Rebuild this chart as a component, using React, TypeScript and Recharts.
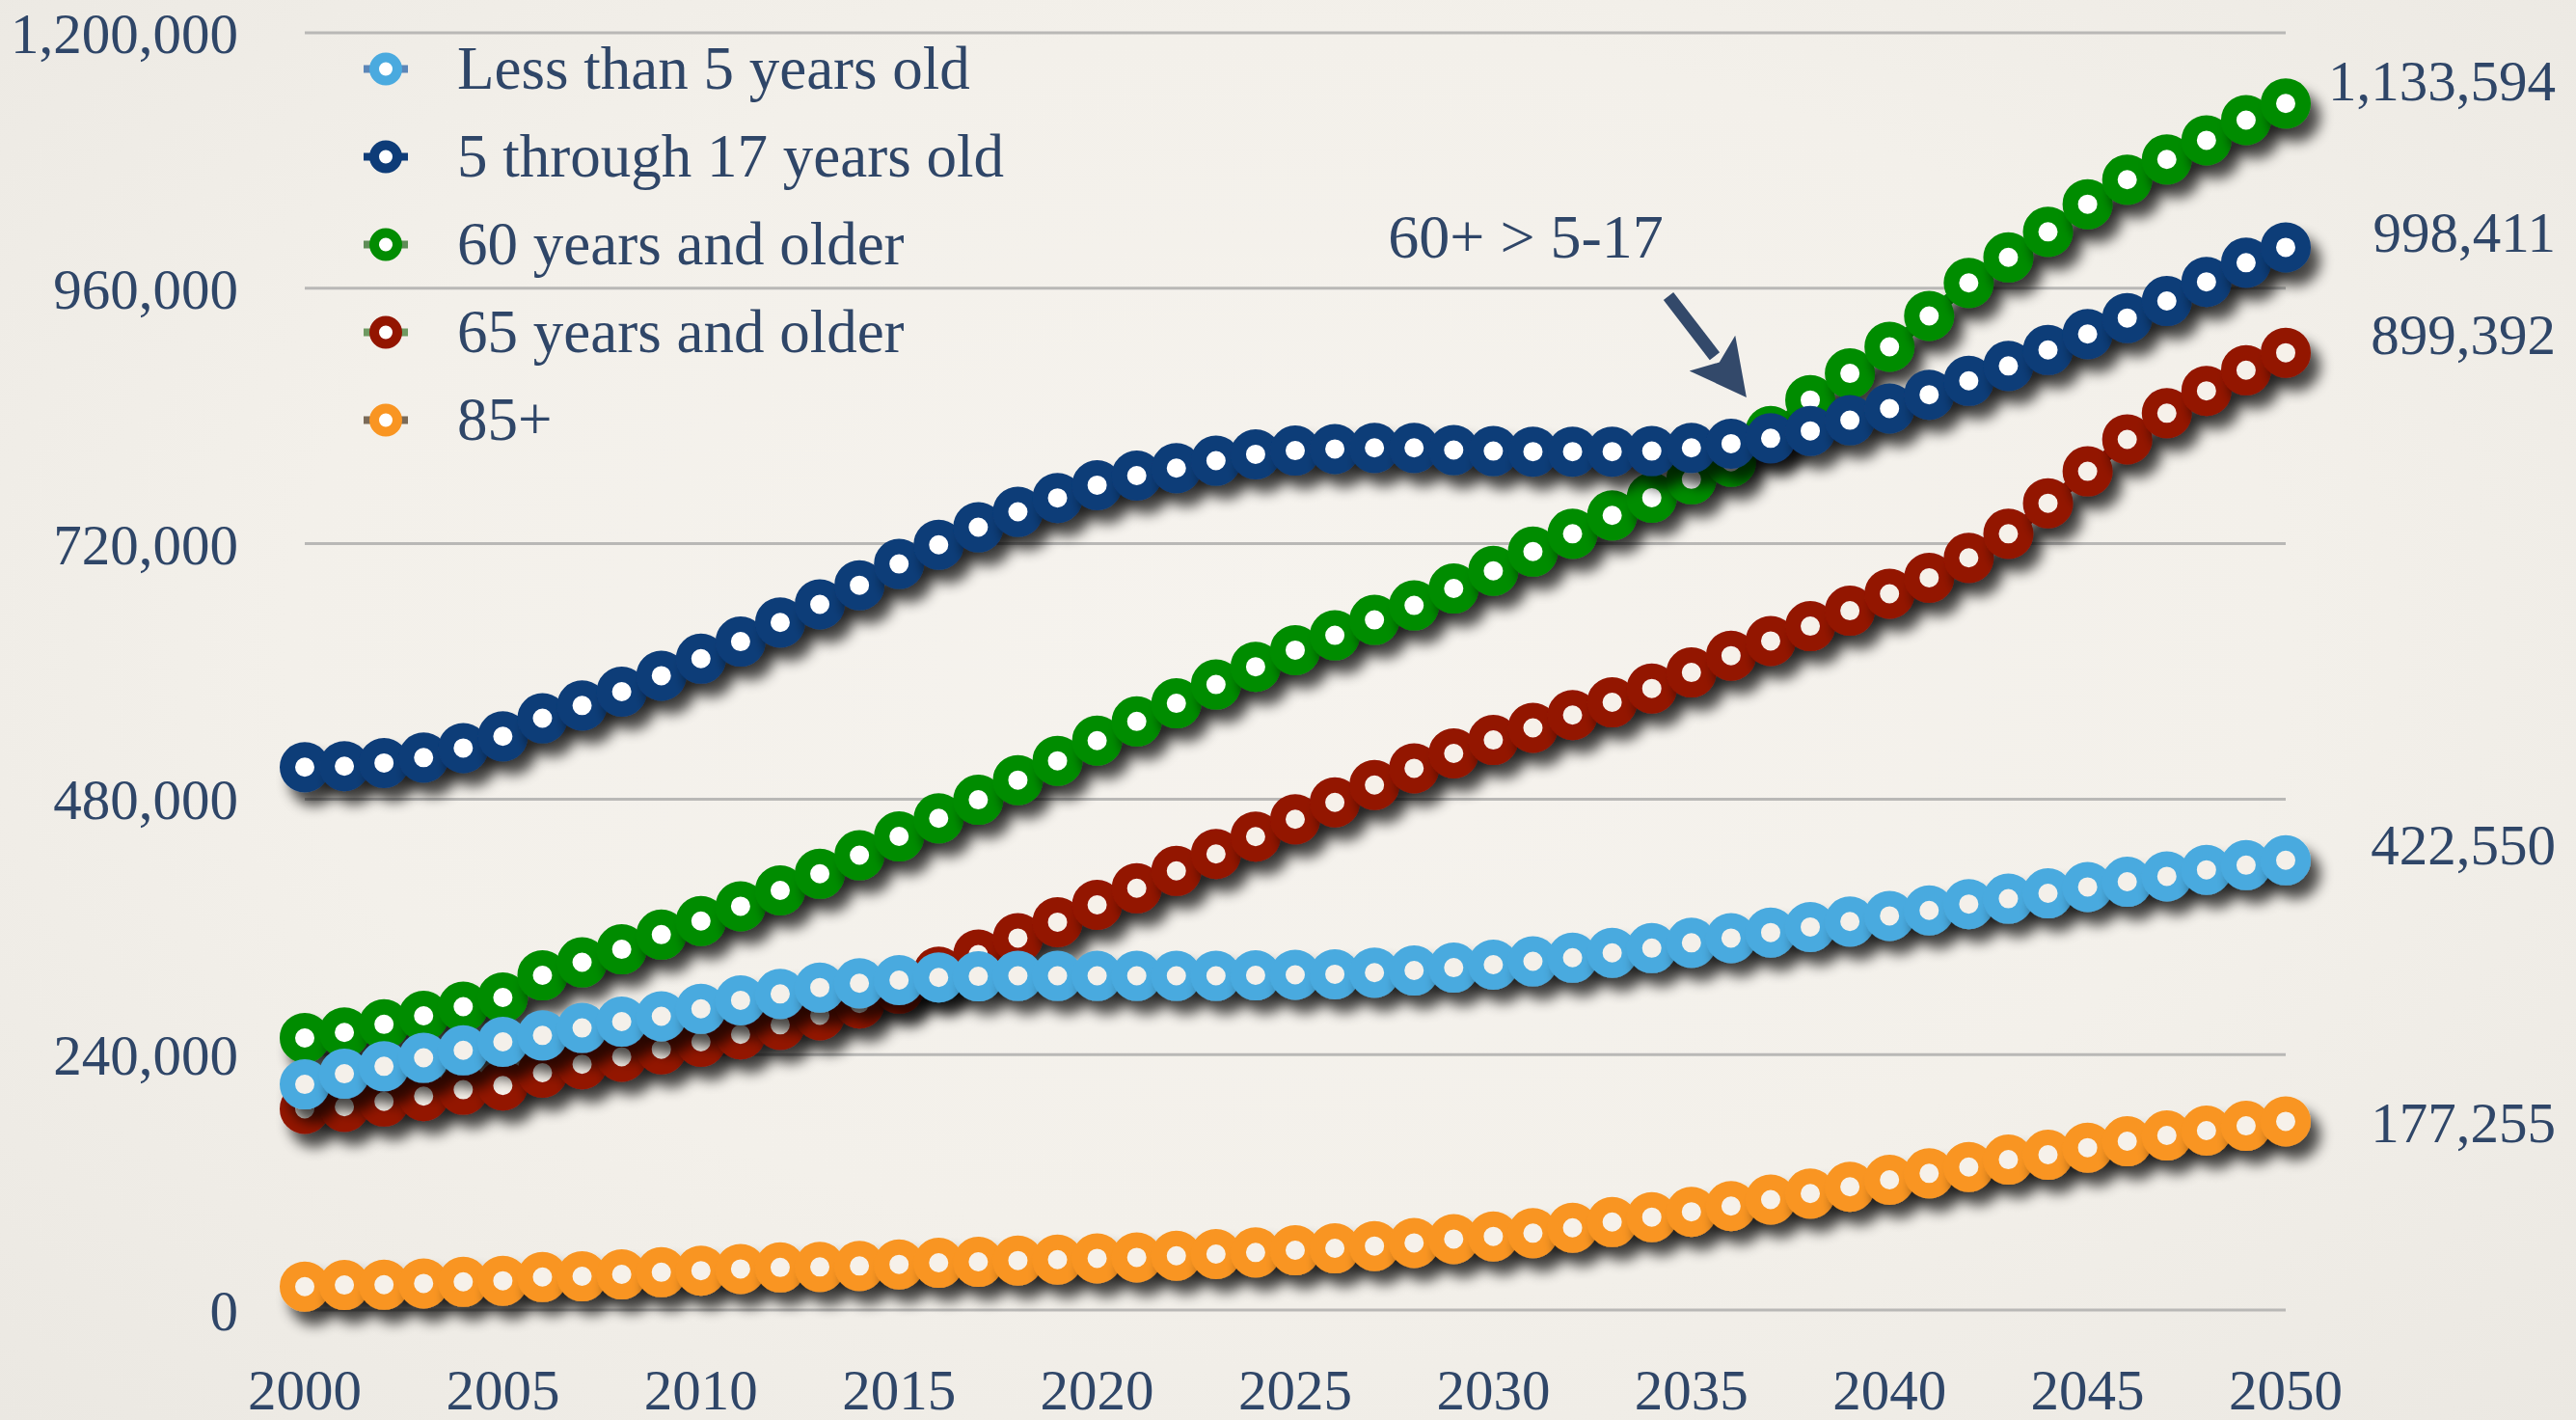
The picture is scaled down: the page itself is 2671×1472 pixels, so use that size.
import React from 'react';
import {
  LineChart,
  Line,
  XAxis,
  YAxis,
  CartesianGrid,
  Legend,
  ReferenceDot,
  ReferenceLine,
} from 'recharts';

// ---------- data ----------
const years = [
  2000, 2001, 2002, 2003, 2004, 2005, 2006, 2007, 2008, 2009,
  2010, 2011, 2012, 2013, 2014, 2015, 2016, 2017, 2018, 2019,
  2020, 2021, 2022, 2023, 2024, 2025, 2026, 2027, 2028, 2029,
  2030, 2031, 2032, 2033, 2034, 2035, 2036, 2037, 2038, 2039,
  2040, 2041, 2042, 2043, 2044, 2045, 2046, 2047, 2048, 2049, 2050,
];

const under5 = [
  212000, 222000, 229000, 237000, 244000, 252000, 258000, 265000, 271000, 276000,
  283000, 291000, 297000, 303000, 307000, 310000, 312500, 313500, 314000, 314000,
  314000, 314000, 314000, 314000, 314500, 315000, 315500, 317000, 319000, 321700,
  324500, 327600, 331000, 335600, 340000, 345000, 349500, 354700, 359900, 365000,
  370300, 375500, 381400, 386500, 391500, 397500, 402400, 407500, 413600, 418000, 422550,
];

const age5to17 = [
  510000, 511000, 514000, 519000, 528000, 539000, 556000, 568000, 581000, 596000,
  612000, 628000, 646000, 663000, 681000, 701000, 719000, 735500, 750000, 763000,
  775000, 784000, 791000, 798000, 804000, 807500, 809000, 810000, 810000, 808000,
  807000, 806500, 806500, 806500, 807000, 810000, 814000, 819000, 826000, 836000,
  847000, 860000, 873000, 887000, 902000, 917000, 932000, 948000, 966000, 984000, 998411,
];

const age60plus = [
  255600, 260800, 268400, 276400, 285000, 293700, 314500, 326700, 338900, 352700,
  365500, 379400, 394300, 409900, 427300, 445000, 462000, 479400, 497900, 516000,
  535000, 553000, 570000, 587700, 604400, 620000, 633900, 648400, 662000, 677900,
  694500, 712600, 729300, 746600, 763200, 780500, 797000, 826000, 855000, 880000,
  905000, 934000, 965000, 989000, 1013000, 1039000, 1062000, 1081000, 1099000, 1118000, 1133594,
];

const age65plus = [
  189000, 191000, 196000, 201000, 207000, 211000, 223000, 231000, 238000, 245000,
  252000, 259000, 268000, 277000, 288000, 302000, 318000, 334000, 349500, 364400,
  380700, 396300, 412600, 428500, 444800, 461100, 477000, 493300, 509000, 523000,
  535600, 547000, 559000, 571000, 584000, 599000, 614800, 628600, 642500, 657000,
  673000, 688000, 706700, 729300, 758000, 788000, 818000, 842600, 863600, 883000, 899392,
];

const age85plus = [
  22000, 23500, 23800, 25000, 26500, 27500, 31000, 31700, 33500, 35500,
  37000, 38600, 40000, 40500, 41400, 42900, 44400, 45300, 46500, 47400,
  48600, 49500, 51000, 52600, 54100, 56200, 58000, 60100, 63100, 66700,
  69200, 72200, 77300, 82700, 87300, 92300, 97700, 103800, 109400, 115800,
  122400, 128400, 134400, 141300, 145900, 152600, 158600, 164000, 168600, 173000, 177255,
];

const xTicks = [2000, 2005, 2010, 2015, 2020, 2025, 2030, 2035, 2040, 2045, 2050];
const yTicks = [0, 240000, 480000, 720000, 960000, 1200000];

const seriesNames = {
  under5: 'Less than 5 years old',
  age5to17: '5 through 17 years old',
  age60plus: '60 years and older',
  age65plus: '65 years and older',
  age85plus: '85+',
};

const annotationText = '60+ > 5-17';
const annotationPos = { x: 2030.82, y: 988800 };
const arrowSegment = [
  { x: 2034.42, y: 952500 },
  { x: 2036.39, y: 857400 },
];

// ---------- styles ----------
const FONT = "'Liberation Serif', 'Times New Roman', serif";
const TEXT = '#2f4668';
const SHADOW = 'url(#lineShadow)';

const styleOf: Record<string, { color: string; fill: string; stub: string; labelDy: number }> = {
  under5: { color: '#4aaadf', fill: '#f4f0ea', stub: '#5b86b8', labelDy: -16 },
  age5to17: { color: '#0e3c78', fill: '#ffffff', stub: '#0e3c78', labelDy: -15 },
  age60plus: { color: '#028c02', fill: '#ffffff', stub: '#5f8d57', labelDy: -23 },
  age65plus: { color: '#931500', fill: '#f6f1ea', stub: '#6f9a62', labelDy: -19 },
  age85plus: { color: '#f99522', fill: '#f6f1ea', stub: '#7a6a58', labelDy: 2 },
};

const legendOrder = ['under5', 'age5to17', 'age60plus', 'age65plus', 'age85plus'];
const drawOrder = ['age65plus', 'age60plus', 'under5', 'age85plus', 'age5to17'];

const seriesValues: Record<string, number[]> = {
  under5,
  age5to17,
  age60plus,
  age65plus,
  age85plus,
};

const rows = years.map((year, i) => ({
  year,
  under5: under5[i],
  age5to17: age5to17[i],
  age60plus: age60plus[i],
  age65plus: age65plus[i],
  age85plus: age85plus[i],
}));

const fmt = (v: number) => v.toLocaleString('en-US');

const LegendContent = () => (
  <div style={{ fontFamily: FONT, color: TEXT }}>
    {legendOrder.map((k) => (
      <div key={k} style={{ display: 'flex', alignItems: 'center', height: 91 }}>
        <svg width={80} height={91} style={{ display: 'block' }}>
          <line x1={17} x2={63} y1={45.5} y2={45.5} stroke={styleOf[k].stub} strokeWidth={8} />
          <circle cx={40} cy={45.5} r={12} fill="#ffffff" stroke={styleOf[k].color} strokeWidth={10} />
        </svg>
        <span style={{ marginLeft: 34, fontSize: 63, lineHeight: '91px', whiteSpace: 'nowrap' }}>
          {(seriesNames as any)[k]}
        </span>
      </div>
    ))}
  </div>
);

const makeEndLabel = (text: string, dy: number) => (props: any) => {
  const vb = props.viewBox || {};
  const x = (vb.x ?? props.x ?? 0) + (vb.width ?? 0) / 2;
  const y = (vb.y ?? props.y ?? 0) + (vb.height ?? 0) / 2;
  return (
    <text
      x={x + 280}
      y={y + dy}
      textAnchor="end"
      dominantBaseline="central"
      fontFamily={FONT}
      fontSize={59}
      fill={TEXT}
    >
      {text}
    </text>
  );
};

const annotationLabel = (props: any) => {
  const vb = props.viewBox || {};
  const x = (vb.x ?? props.x ?? 0) + (vb.width ?? 0) / 2;
  const y = (vb.y ?? props.y ?? 0) + (vb.height ?? 0) / 2;
  return (
    <text x={x} y={y} textAnchor="middle" fontFamily={FONT} fontSize={64} fill={TEXT}>
      {annotationText}
    </text>
  );
};

const ArrowShape = (props: any) => {
  const { x1, y1, x2, y2 } = props;
  if ([x1, y1, x2, y2].some((v) => typeof v !== 'number' || isNaN(v))) return null;
  const dx = x2 - x1;
  const dy = y2 - y1;
  const len = Math.sqrt(dx * dx + dy * dy) || 1;
  const ux = dx / len;
  const uy = dy / len;
  const headLen = 58;
  const headHalf = 30;
  const bx = x2 - ux * headLen;
  const by = y2 - uy * headLen;
  const px = -uy;
  const py = ux;
  const color = '#33496a';
  return (
    <g>
      <line x1={x1} y1={y1} x2={bx + ux * 4} y2={by + uy * 4} stroke={color} strokeWidth={13} />
      <polygon
        points={`${x2},${y2} ${bx + px * headHalf},${by + py * headHalf} ${bx + ux * 12},${by + uy * 12} ${bx - px * headHalf},${by - py * headHalf}`}
        fill={color}
      />
    </g>
  );
};

const makeDot = (k: string) => (props: any) => {
  const { cx, cy, index } = props;
  if (typeof cx !== 'number' || typeof cy !== 'number') return <g key={`d-${k}-${index}`} />;
  return (
    <circle
      key={`d-${k}-${index}`}
      cx={cx}
      cy={cy}
      r={18}
      fill={styleOf[k].fill}
      stroke={styleOf[k].color}
      strokeWidth={16}
      filter={SHADOW}
    />
  );
};

export default function App() {
  return (
    <div
      style={{
        position: 'absolute',
        left: 0,
        top: 0,
        width: 2671,
        height: 1472,
        overflow: 'hidden',
        background:
          'radial-gradient(ellipse at 50% 45%, #f6f3ee 0%, #f3f0ea 55%, #ebe8e2 100%)',
      }}
    >
      <svg width={1} height={1} style={{ position: 'absolute', left: 0, top: 0 }}>
        <defs>
          <filter
            id="lineShadow"
            filterUnits="userSpaceOnUse"
            x="0"
            y="0"
            width="2671"
            height="1472"
          >
            <feGaussianBlur in="SourceAlpha" stdDeviation="7" />
            <feOffset dx="10" dy="14" result="blurred" />
            <feComponentTransfer>
              <feFuncA type="linear" slope="0.7" />
            </feComponentTransfer>
            <feMerge>
              <feMergeNode />
              <feMergeNode in="SourceGraphic" />
            </feMerge>
          </filter>
        </defs>
      </svg>
      <LineChart
        width={2671}
        height={1472}
        data={rows}
        margin={{ top: 34, right: 301, bottom: 0, left: 0 }}
      >
        <CartesianGrid vertical={false} stroke="#b9b8b6" strokeWidth={3} />
        <XAxis
          dataKey="year"
          type="number"
          domain={[2000, 2050]}
          ticks={xTicks}
          axisLine={false}
          tickLine={false}
          tickSize={0}
          tickMargin={61}
          height={114}
          interval={0}
          tick={{ fill: TEXT, fontSize: 59, fontFamily: FONT }}
        />
        <YAxis
          type="number"
          domain={[0, 1200000]}
          ticks={yTicks}
          tickFormatter={fmt}
          axisLine={false}
          tickLine={false}
          tickSize={0}
          tickMargin={69}
          width={316}
          interval={0}
          tick={{ fill: TEXT, fontSize: 59, fontFamily: FONT }}
        />
        <Legend
          layout="vertical"
          align="center"
          verticalAlign="middle"
          content={<LegendContent />}
          wrapperStyle={{ left: 360, top: 26, width: 800, height: 460 }}
        />
        {drawOrder.map((k) => (
          <Line
            key={k}
            type="monotone"
            dataKey={k}
            name={(seriesNames as any)[k]}
            stroke={styleOf[k].color}
            strokeWidth={12}
            filter={SHADOW}
            dot={makeDot(k)}
            activeDot={false}
            isAnimationActive={false}
          />
        ))}
        {legendOrder.map((k) => {
          const vals = seriesValues[k];
          const last = vals[vals.length - 1];
          return (
            <ReferenceDot
              key={`end-${k}`}
              x={years[years.length - 1]}
              y={last}
              r={0}
              fill="none"
              stroke="none"
              label={{ content: makeEndLabel(fmt(last), styleOf[k].labelDy) }}
            />
          );
        })}
        <ReferenceLine segment={arrowSegment} shape={ArrowShape} />
        <ReferenceDot
          x={annotationPos.x}
          y={annotationPos.y}
          r={0}
          fill="none"
          stroke="none"
          label={{ content: annotationLabel }}
        />
      </LineChart>
    </div>
  );
}
